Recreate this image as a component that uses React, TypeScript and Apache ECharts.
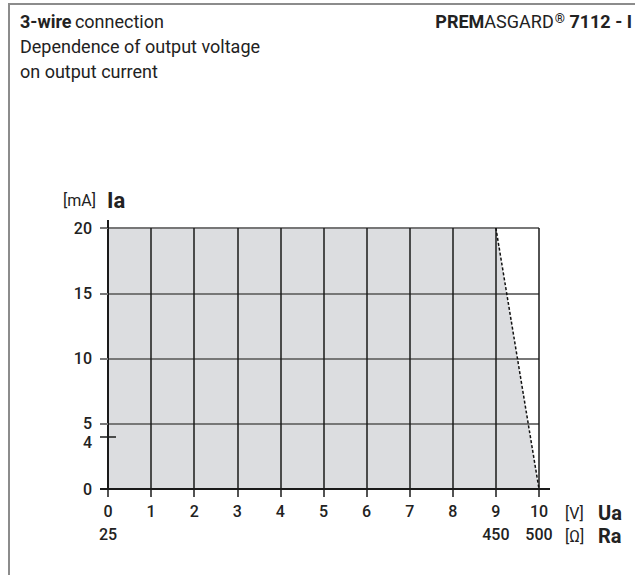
import React, { useEffect, useRef } from 'react';
import * as echarts from 'echarts';

const U_MIN = 0;
const U_MAX = 10;
const U_STEP = 1;
const I_MIN = 0;
const I_MAX = 20;
const I_STEP = 5;
const AREA_U = [0, 9, 10];
const AREA_I = [20, 20, 0];
const LIMIT_U = [9, 10];
const LIMIT_I = [20, 0];
const I_EXTRA_TICKS = [4];
const RA_AT_U = [0, 9, 10];
const RA_LABELS = ['25', '450', '500'];

const FONT = 'Roboto';
const INK = '#222';

export default function App() {
  const ref = useRef<HTMLDivElement>(null);
  useEffect(() => {
    document.body.style.margin = '0';
    const chart = echarts.init(ref.current!, null, { renderer: 'svg' });
    const numStyle = { fontFamily: FONT, fontSize: 16, fontWeight: 500, color: INK };
    chart.setOption({
      animation: false,
      backgroundColor: '#ffffff',
      grid: { left: 108, right: 96, top: 228, bottom: 86, outerBoundsMode: 'none' },
      xAxis: [
        {
          type: 'value', min: U_MIN, max: U_MAX, interval: U_STEP, position: 'bottom',
          axisLine: { show: true, lineStyle: { color: '#1a1a1a', width: 2 } },
          axisTick: { show: true, length: 8, lineStyle: { color: '#1a1a1a', width: 1.5 } },
          axisLabel: { ...numStyle, margin: 14 },
          splitLine: { show: true, lineStyle: { color: '#1a1a1a', width: 1.5 } },
        },
        {
          type: 'value', min: U_MIN, max: U_MAX, interval: U_STEP, position: 'bottom', offset: 23,
          axisLine: { show: false }, axisTick: { show: false }, splitLine: { show: false },
          axisLabel: {
            ...numStyle, margin: 14,
            formatter: (v: number) => { const i = RA_AT_U.indexOf(v); return i >= 0 ? RA_LABELS[i] : ''; },
          },
        },
      ],
      yAxis: [
        {
          type: 'value', min: I_MIN, max: I_MAX, interval: I_STEP, position: 'left',
          axisLine: { show: true, lineStyle: { color: '#1a1a1a', width: 2 } },
          axisTick: { show: true, length: 8, lineStyle: { color: '#777', width: 2 } },
          axisLabel: { ...numStyle, margin: 16 },
          splitLine: { show: true, lineStyle: { color: '#777', width: 2 } },
        },
        {
          type: 'value', min: I_MIN, max: I_MAX, position: 'left', offset: -8,
          axisLine: { show: false }, splitLine: { show: false },
          axisLabel: { ...numStyle, margin: 24, customValues: I_EXTRA_TICKS, verticalAlign: 'top', lineHeight: 12 },
          axisTick: { show: true, length: 16, customValues: I_EXTRA_TICKS, lineStyle: { color: '#1a1a1a', width: 1.5 } },
        },
      ],
      series: [
        {
          type: 'line', z: -1, silent: true, symbol: 'none',
          data: AREA_U.map((u, i) => [u, AREA_I[i]]),
          lineStyle: { width: 0 },
          areaStyle: { color: '#dcdde0', opacity: 1 },
        },
        {
          type: 'line', z: 5, silent: true, symbol: 'none',
          data: LIMIT_U.map((u, i) => [u, LIMIT_I[i]]),
          lineStyle: { color: '#111', width: 1.5, type: [3, 2] },
        },
      ],
    });
    const p00 = chart.convertToPixel({ gridIndex: 0 }, [U_MIN, I_MIN]) as number[];
    const p10 = chart.convertToPixel({ gridIndex: 0 }, [U_MAX, I_MIN]) as number[];
    const p02 = chart.convertToPixel({ gridIndex: 0 }, [U_MIN, I_MAX]) as number[];
    const frame = { stroke: '#8c8c8c', lineWidth: 2 };
    const ax = { stroke: '#1a1a1a', lineWidth: 2 };
    const unit = (text: string, x: number, y: number, align: string) => ({
      type: 'text', x, y, silent: true,
      style: { text, align, verticalAlign: 'middle', font: `16px ${FONT}`, lineHeight: 16, fill: INK },
    });
    const sym = (text: string, x: number, y: number, size: number) => ({
      type: 'text', x, y, silent: true,
      style: { text, align: 'left', verticalAlign: 'middle', font: `bold ${size}px ${FONT}`, lineHeight: size, fill: INK },
    });
    chart.setOption({
      graphic: [
        { type: 'line', shape: { x1: 9, y1: 4, x2: 9, y2: 575 }, style: frame, silent: true },
        { type: 'line', shape: { x1: 8, y1: 4, x2: 635, y2: 4 }, style: frame, silent: true },
        { type: 'line', z: 10, shape: { x1: p00[0] - 8, y1: p00[1], x2: p10[0] + 11, y2: p10[1] }, style: ax, silent: true },
        { type: 'line', z: 10, shape: { x1: p02[0], y1: p02[1] - 8, x2: p02[0], y2: p02[1] }, style: ax, silent: true },
        unit('[mA]', p02[0] - 12, p02[1] - 28, 'right'),
        sym('Ia', p02[0] - 1, p02[1] - 28, 22),
        unit('[V]', p10[0] + 26, p10[1] + 24, 'left'),
        sym('Ua', p10[0] + 59, p10[1] + 24, 20),
        unit('[Ω]', p10[0] + 26, p10[1] + 47, 'left'),
        sym('Ra', p10[0] + 59, p10[1] + 47, 20),
        {
          type: 'text', left: 20, top: 12,
          style: {
            text: '{b|3-wire} {n|connection}',
            rich: {
              b: { fontFamily: FONT, fontSize: 18, fontWeight: 'bold', fill: INK },
              n: { fontFamily: FONT, fontSize: 18, fill: INK },
            },
          },
        },
        { type: 'text', left: 20, top: 37, style: { text: 'Dependence of output voltage', font: `18px ${FONT}`, fill: INK } },
        { type: 'text', left: 20, top: 62, style: { text: 'on output current', font: `18px ${FONT}`, fill: INK } },
        {
          type: 'text', right: 3, top: 12,
          style: {
            text: '{b|PREM}{n|ASGARD}{s|®}{b| 7112 - I}',
            rich: {
              b: { fontFamily: FONT, fontSize: 18, fontWeight: 'bold', fill: INK },
              n: { fontFamily: FONT, fontSize: 18, fill: INK },
              s: { fontFamily: FONT, fontSize: 13, fontWeight: 'bold', fill: INK, verticalAlign: 'top', padding: [0, 0, 6, 1] },
            },
          },
        },
      ],
    });
    return () => chart.dispose();
  }, []);
  return <div ref={ref} style={{ width: 635, height: 575 }} />;
}
